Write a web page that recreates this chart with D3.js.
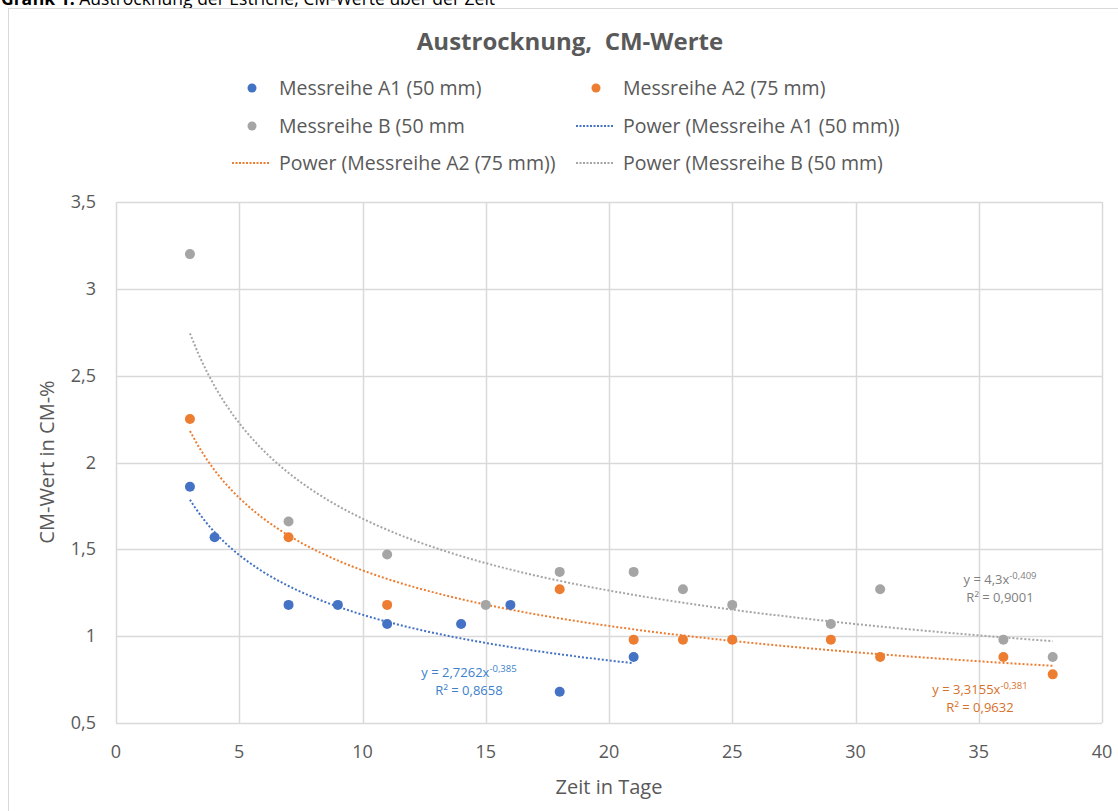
<!DOCTYPE html>
<html>
<head>
<meta charset="utf-8">
<script src="https://cdn.jsdelivr.net/npm/d3@7"></script>
<style>
  body { margin: 0; background: #fff; }
  svg { display: block; font-family: "Open Sans", "Noto Sans", sans-serif; }
</style>
</head>
<body>
<div id="chart"></div>
<script>
// Measured values (day, CM-%)
const daysA1 = [3, 4, 7, 9, 11, 14, 16, 18, 21];
const valuesA1 = [1.86, 1.57, 1.18, 1.18, 1.07, 1.07, 1.18, 0.68, 0.88];
const daysA2 = [3, 7, 11, 18, 21, 23, 25, 29, 31, 36, 38];
const valuesA2 = [2.25, 1.57, 1.18, 1.27, 0.98, 0.98, 0.98, 0.98, 0.88, 0.88, 0.78];
const daysB = [3, 7, 11, 15, 18, 21, 23, 25, 29, 31, 36, 38];
const valuesB = [3.2, 1.66, 1.47, 1.18, 1.37, 1.37, 1.27, 1.18, 1.07, 1.27, 0.98, 0.88];

// power trend coefficients as printed on the chart: y = a * x^b
const trendA1 = { a: 2.7262, b: -0.385, r2: "0,8658", eq: "2,7262", exp: "-0,385" };
const trendA2 = { a: 3.3155, b: -0.381, r2: "0,9632", eq: "3,3155", exp: "-0,381" };
const trendB = { a: 4.3, b: -0.409, r2: "0,9001", eq: "4,3", exp: "-0,409" };

const xTicks = [0, 5, 10, 15, 20, 25, 30, 35, 40];
const yTicks = [0.5, 1, 1.5, 2, 2.5, 3, 3.5];

const W = 1118, H = 811;
const margin = { top: 202, right: 16, bottom: 88, left: 116 };

const svg = d3.select("#chart").append("svg")
    .attr("width", W)
    .attr("height", H);

// caption above the chart (cut off at the top edge, as in the source)
const cap = svg.append("text")
    .attr("x", 1).attr("y", 5)
    .attr("font-family", "Open Sans, sans-serif")
    .attr("font-size", 17.5).attr("fill", "#000");
cap.append("tspan").attr("font-weight", "bold").text("Grafik 1: ");
cap.append("tspan").text("Austrocknung der Estriche, CM-Werte über der Zeit");

// chart frame
svg.append("rect")
    .attr("x", 8.5).attr("y", 8.5)
    .attr("width", W + 10).attr("height", H + 10)
    .attr("fill", "#fff").attr("stroke", "#d9d9d9");

const x = d3.scaleLinear().domain([0, 40]).range([margin.left, 1102]);
const y = d3.scaleLinear().domain([0.5, 3.5]).range([723, margin.top]);

// grid
svg.append("g").selectAll("line").data(yTicks).join("line")
    .attr("x1", x(0)).attr("x2", x(40))
    .attr("y1", d => Math.round(y(d)) + 0.5).attr("y2", d => Math.round(y(d)) + 0.5)
    .attr("stroke", "#d9d9d9").attr("stroke-width", 1.5);
svg.append("g").selectAll("line").data(xTicks).join("line")
    .attr("y1", y(0.5)).attr("y2", y(3.5))
    .attr("x1", d => Math.round(x(d)) + 0.5).attr("x2", d => Math.round(x(d)) + 0.5)
    .attr("stroke", "#d9d9d9").attr("stroke-width", 1.5);

// tick labels
svg.append("g").selectAll("text").data(xTicks).join("text")
    .attr("x", d => x(d)).attr("y", 758)
    .attr("text-anchor", "middle")
    .attr("font-size", 18).attr("fill", "#595959")
    .text(d => d);
svg.append("g").selectAll("text").data(yTicks).join("text")
    .attr("x", 96).attr("y", d => y(d) + 6)
    .attr("text-anchor", "end")
    .attr("font-size", 18).attr("fill", "#595959")
    .text(d => String(d).replace(".", ","));

// axis titles
svg.append("text")
    .attr("x", 609).attr("y", 794)
    .attr("text-anchor", "middle")
    .attr("font-size", 20).attr("fill", "#595959")
    .text("Zeit in Tage");
svg.append("text")
    .attr("transform", "translate(54,462) rotate(-90)")
    .attr("text-anchor", "middle")
    .attr("font-size", 20).attr("fill", "#595959")
    .text("CM-Wert in CM-%");

// title
svg.append("text")
    .attr("x", 570).attr("y", 50)
    .attr("text-anchor", "middle")
    .style("white-space", "pre")
    .attr("font-size", 24).attr("font-weight", "bold").attr("fill", "#595959")
    .text("Austrocknung,  CM-Werte");

const series = [
  { name: "Messreihe A1 (50 mm)", days: daysA1, values: valuesA1, trend: trendA1, color: "#4472C4", text: "#3d7fcc" },
  { name: "Messreihe A2 (75 mm)", days: daysA2, values: valuesA2, trend: trendA2, color: "#ED7D31", text: "#d6712a" },
  { name: "Messreihe B (50 mm", days: daysB, values: valuesB, trend: trendB, color: "#A5A5A5", text: "#7f7f7f" }
];

// trend lines
const line = d3.line().x(d => x(d[0])).y(d => y(d[1]));
series.forEach(s => {
  const x0 = d3.min(s.days), x1 = d3.max(s.days);
  const pts = d3.range(0, 101).map(i => {
    const xv = x0 + (x1 - x0) * i / 100;
    return [xv, s.trend.a * Math.pow(xv, s.trend.b)];
  });
  svg.append("path")
      .attr("d", line(pts))
      .attr("fill", "none")
      .attr("stroke", s.color)
      .attr("stroke-width", 2)
      .attr("stroke-dasharray", "2 2");
});

// points
series.forEach(s => {
  svg.append("g").selectAll("circle").data(s.days.map((d, i) => [d, s.values[i]])).join("circle")
      .attr("cx", d => x(d[0])).attr("cy", d => y(d[1]))
      .attr("r", 5).attr("fill", s.color);
});

// equation labels
function eqLabel(s, cx, cy) {
  const t = svg.append("text")
      .attr("x", cx).attr("y", cy)
      .attr("text-anchor", "middle")
      .attr("font-size", 13).attr("fill", s.text);
  t.append("tspan").text("y = " + s.trend.eq + "x");
  t.append("tspan").attr("dy", -5).attr("font-size", 9.5).text(s.trend.exp);
  svg.append("text")
      .attr("x", cx).attr("y", cy + 18)
      .attr("text-anchor", "middle")
      .attr("font-size", 13).attr("fill", s.text)
      .text("R² = " + s.trend.r2);
}
eqLabel(series[0], 469, 677);
eqLabel(series[1], 980, 694);
eqLabel(series[2], 1000, 584);

// legend
const legend = [
  { label: series[0].name, color: series[0].color, type: "dot", lx: 252, ly: 88 },
  { label: series[1].name, color: series[1].color, type: "dot", lx: 596, ly: 88 },
  { label: series[2].name, color: series[2].color, type: "dot", lx: 252, ly: 126 },
  { label: "Power (" + series[0].name + ")", color: series[0].color, type: "line", lx: 596, ly: 126 },
  { label: "Power (" + series[1].name + ")", color: series[1].color, type: "line", lx: 252, ly: 163 },
  { label: "Power (" + series[2].name + ")", color: series[2].color, type: "line", lx: 596, ly: 163 }
];
legend.forEach(l => {
  if (l.type === "dot") {
    svg.append("circle").attr("cx", l.lx).attr("cy", l.ly).attr("r", 4.5).attr("fill", l.color);
  } else {
    svg.append("line")
        .attr("x1", l.lx - 20).attr("x2", l.lx + 18)
        .attr("y1", l.ly).attr("y2", l.ly)
        .attr("stroke", l.color).attr("stroke-width", 2)
        .attr("stroke-dasharray", "2 1.5");
  }
  svg.append("text")
      .attr("x", l.lx + 27).attr("y", l.ly + 7)
      .attr("font-size", 19.5).attr("fill", "#595959")
      .text(l.label);
});
</script>
</body>
</html>
